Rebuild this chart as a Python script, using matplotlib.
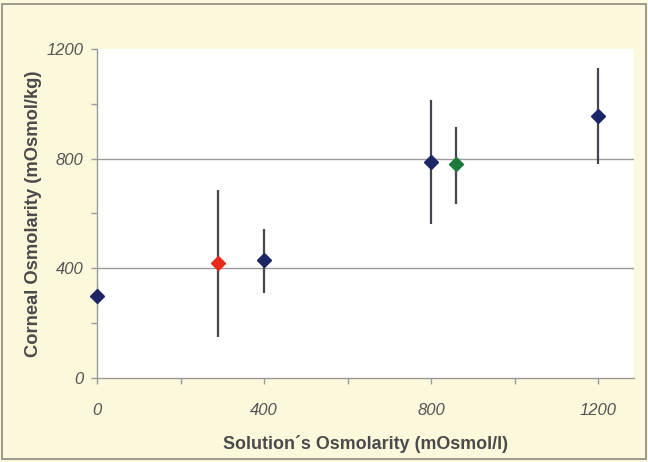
import numpy as np
import matplotlib.pyplot as plt

plt.rcParams['font.family'] = ['Liberation Sans', 'DejaVu Sans']

# Data
solution_osm = [0, 290, 400, 800, 860, 1200]
corneal_osm = [300, 420, 430, 788, 780, 956]
err_low = [40, 270, 120, 225, 145, 175]
err_high = [40, 265, 115, 225, 135, 175]
point_colors = ['#1c2566', '#e82a1a', '#1c2566', '#1c2566', '#1b7a3a', '#1c2566']

fig = plt.figure(figsize=(6.48, 4.62), dpi=100)
fig.patch.set_facecolor('#fcf8dc')
# outer frame
fig.patches.append(plt.Rectangle((0.003, 0.006), 0.994, 0.985, transform=fig.transFigure,
                                 fill=False, edgecolor='#8a8a80', linewidth=1.2))

ax = fig.add_axes([0.150, 0.182, 0.828, 0.712])
ax.set_facecolor('white')

for x, y, lo, hi, c in zip(solution_osm, corneal_osm, err_low, err_high, point_colors):
    ax.errorbar(x, y, yerr=[[lo], [hi]], fmt='none', ecolor='#45464c', elinewidth=1.6, capsize=0, zorder=2)
    ax.plot(x, y, marker='D', color=c, markersize=7, linestyle='none', zorder=3, clip_on=False)

ax.set_xlim(0, 1285)
ax.set_ylim(0, 1200)
ax.set_xticks([0, 400, 800, 1200])
ax.set_xticks([200, 600, 1000], minor=True)
ax.set_yticks([0, 400, 800, 1200])
ax.set_yticks([200, 600, 1000], minor=True)

ax.grid(axis='y', which='major', color='#9a9a9a', linewidth=1.0)
ax.get_ygridlines()[-1].set_visible(False)
ax.get_ygridlines()[0].set_visible(False)
ax.set_axisbelow(True)

for s in ['top', 'right']:
    ax.spines[s].set_visible(False)
for s in ['left', 'bottom']:
    ax.spines[s].set_color('#9a9a9a')
    ax.spines[s].set_linewidth(1.0)

ax.tick_params(which='both', direction='out', color='#9a9a9a', length=4, width=1)
ax.tick_params(axis='x', which='major', pad=14)
ax.tick_params(axis='y', which='major', pad=6)
for lab in ax.get_xticklabels() + ax.get_yticklabels():
    lab.set_fontstyle('italic')
    lab.set_fontsize(12)
    lab.set_color('#555555')

ax.set_xlabel("Solution´s Osmolarity (mOsmol/l)", fontsize=12.9, fontweight='bold', color='#4a4a4a', labelpad=12)
ax.set_ylabel("Corneal Osmolarity (mOsmol/kg)", fontsize=13.2, fontweight='bold', color='#4a4a4a', labelpad=3)

fig.savefig('out.png', dpi=100, facecolor=fig.get_facecolor())
